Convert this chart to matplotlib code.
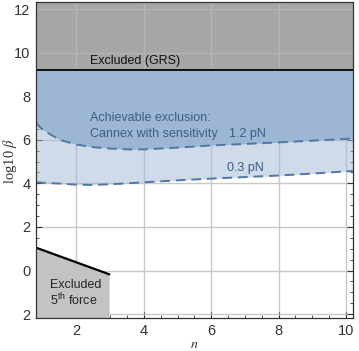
import numpy as np
import matplotlib.pyplot as plt
from matplotlib.ticker import MultipleLocator, FixedLocator, FixedFormatter

plt.rcParams['font.family'] = ['Liberation Sans', 'DejaVu Sans']
plt.rcParams['mathtext.fontset'] = 'custom'
plt.rcParams['mathtext.rm'] = 'Liberation Sans'

n_vals = [0.8, 1.0, 1.5, 2.0, 2.5, 3.0, 3.5, 4.0, 5.0, 6.0, 7.0, 8.0, 9.0, 10.0, 10.2]
beta_12pN = [6.78, 6.45, 6.0, 5.78, 5.66, 5.6, 5.56, 5.56, 5.64, 5.74, 5.81, 5.88, 5.96, 6.04, 6.06]
beta_03pN = [4.05, 4.03, 3.99, 3.94, 3.93, 3.96, 4.0, 4.05, 4.14, 4.22, 4.29, 4.36, 4.45, 4.55, 4.57]

grs_limit = 9.2
fifth_n = [0.8, 2.97]
fifth_beta = [1.05, -0.17]

xlim = (0.8, 10.2)
ylim = (-2.2, 12.3)
xticks = [2, 4, 6, 8, 10]
yticks = [-2, 0, 2, 4, 6, 8, 10, 12]
ytick_labels = ['2', '0', '2', '4', '6', '8', '10', '12']

fig = plt.figure(figsize=(3.59, 3.51), dpi=100)
ax = fig.add_axes([0.1003, 0.0926, 0.8822, 0.9003])

blue_line = '#4f76a7'
blue_text = '#3d5d85'

# excluded by GRS
ax.fill_between(xlim, grs_limit, ylim[1], color='#a6a6a6', lw=0, zorder=2)
# faint grid showing through the grey band
ax.vlines(xticks[:-1], grs_limit, ylim[1], color='#b4b4b4', lw=1.0, zorder=3)
ax.hlines([10, 12], *xlim, color='#b4b4b4', lw=1.0, zorder=3)
ax.axhline(grs_limit, color='black', lw=1.3, zorder=4)

# achievable exclusion regions
ax.fill_between(n_vals, beta_12pN, grs_limit, color='#9db6d4', lw=0, zorder=2)
ax.fill_between(n_vals, beta_03pN, beta_12pN, color='#a1b9d5', alpha=0.5, lw=0, zorder=2)
ax.plot(n_vals, beta_12pN, color=blue_line, lw=1.4, ls=(0, (5, 3)), zorder=4)
ax.plot(n_vals, beta_03pN, color=blue_line, lw=1.4, ls=(0, (5, 3)), zorder=4)

# excluded by 5th force searches
ax.fill_between(fifth_n, fifth_beta, ylim[0], color='#c3c3c3', lw=0, zorder=2)
ax.plot(fifth_n, fifth_beta, color='black', lw=1.6, zorder=4)

ax.text(3.75, 9.6, 'Excluded (GRS)', fontsize=9, ha='center', va='center', color='#111111', zorder=5)
ax.text(2.39, 6.98, 'Achievable exclusion:', fontsize=9, va='center', color=blue_text, zorder=5)
ax.text(2.39, 6.25, 'Cannex with sensitivity', fontsize=9, va='center', color=blue_text, zorder=5)
ax.text(6.52, 6.25, '1.2 pN', fontsize=9, va='center', color=blue_text, zorder=5)
ax.text(6.47, 4.69, '0.3 pN', fontsize=9, va='center', color=blue_text, zorder=5)
ax.text(1.21, -0.67, 'Excluded', fontsize=9, va='center', color='#222222', zorder=5)
ax.text(1.21, -1.35, r'5$^{\mathrm{th}}$ force', fontsize=9, va='center', color='#222222', zorder=5)

ax.set_xlim(*xlim)
ax.set_ylim(*ylim)
ax.xaxis.set_major_locator(FixedLocator(xticks))
ax.xaxis.set_minor_locator(MultipleLocator(0.5))
ax.yaxis.set_major_locator(FixedLocator(yticks))
ax.yaxis.set_major_formatter(FixedFormatter(ytick_labels))
ax.yaxis.set_minor_locator(MultipleLocator(0.5))
ax.tick_params(which='both', direction='in', top=True, right=True,
               labelsize=10.5, labelcolor='#333333', color='#333333')
ax.tick_params(which='major', length=4, width=0.8, pad=4)
ax.tick_params(which='minor', length=2, width=0.6)
ax.grid(True, which='major', color='#c8c8c8', lw=1.0, zorder=1)
ax.set_axisbelow(True)
for s in ax.spines.values():
    s.set_linewidth(0.9)
    s.set_color('#333333')
    s.set_zorder(6)

ax.set_xlabel('$n$', fontsize=10, math_fontfamily='stix', labelpad=-1, color='#333333')
ax.set_ylabel(r'log10 $\beta$', fontsize=10.5, family='Liberation Serif',
              math_fontfamily='stix', color='#333333')
ax.yaxis.set_label_coords(-0.053, 0.5)

fig.savefig('out.png', dpi=100)
